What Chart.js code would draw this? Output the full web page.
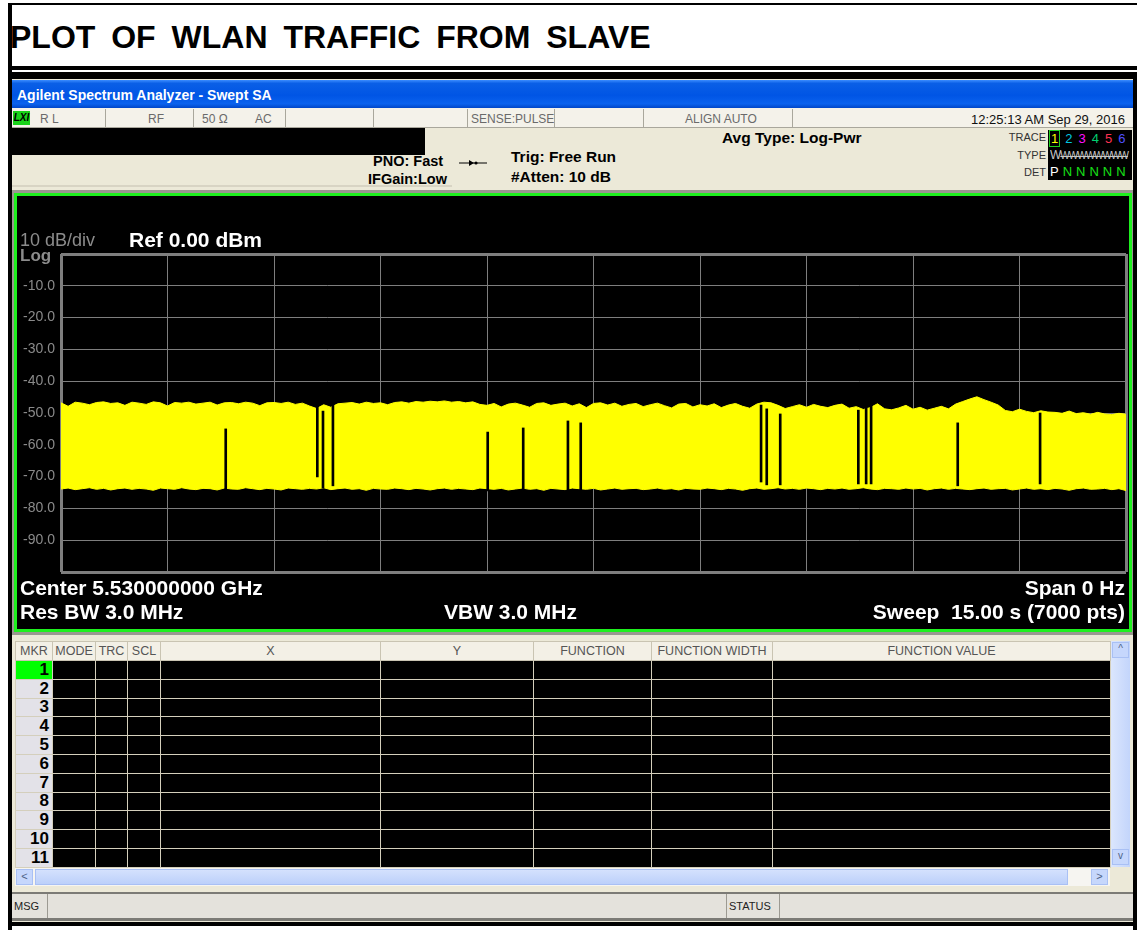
<!DOCTYPE html>
<html>
<head>
<meta charset="utf-8">
<script src="https://cdn.jsdelivr.net/npm/chart.js"></script>
<style>
  body { margin: 0; width: 1137px; height: 930px; position: relative; background: #fff; overflow: hidden;
         font-family: "Liberation Sans", Arial, sans-serif; }
  .a { position: absolute; white-space: nowrap; }
  .st { font-size: 12px; color: #6a6a6a; top: 112px; }
  .vd { position: absolute; top: 109px; width: 1px; height: 19px; background: #a9a79c; }
  .bw { color: #fff; font-weight: bold; font-size: 21px; }
  .hb { font-weight: bold; font-size: 15.5px; }
  table.mk { position: absolute; left: 15px; top: 641px; border-collapse: collapse; table-layout: fixed; }
  table.mk td { padding: 0; border: 1px solid #d4cfbc; background: #000; height: 17.8px; }
  table.mk tr.h td { background: #f3f0e6; color: #555; font-size: 12.5px; text-align: center; height: 18px; border-color: #c9c4b2; }
  table.mk td.n { background: #e3e2e8; color: #000; font-weight: bold; font-size: 17px; text-align: right; padding-right: 3px; line-height: 16px; }
</style>
</head>
<body>

<!-- page title frame -->
<div class="a" style="left:8px;top:3px;width:1129px;height:63px;border-top:2px solid #000;border-left:4px solid #000;box-sizing:border-box"></div>
<div class="a" style="left:10px;top:19px;font-size:32px;font-weight:bold;word-spacing:7px">PLOT OF WLAN TRAFFIC FROM SLAVE</div>
<div class="a" style="left:8px;top:66px;width:1129px;height:4px;background:#000"></div>
<div class="a" style="left:8px;top:72px;width:1129px;height:7px;background:#000"></div>
<div class="a" style="left:8px;top:66px;width:4px;height:864px;background:#000"></div>
<div class="a" style="left:1133px;top:79px;width:4px;height:851px;background:#000"></div>

<!-- analyzer window -->
<div class="a" style="left:12px;top:79px;width:1121px;height:843px;background:#ece9d8"></div>
<div class="a" style="left:12px;top:80px;width:1121px;height:28px;background:linear-gradient(#3b8cff 0%,#0a5fe6 12%,#0055e5 55%,#0a62ee 85%,#0046c8 100%)"></div>
<div class="a" style="left:17px;top:87px;color:#fff;font-weight:bold;font-size:14px">Agilent Spectrum Analyzer - Swept SA</div>

<!-- status row -->
<div class="a" style="left:12px;top:108px;width:1121px;height:20px;background:#f4f2ea;border-bottom:1px solid #a9a79c;box-sizing:border-box"></div>
<div class="a" style="left:13px;top:111px;width:17px;height:14px;background:#19d219;font-size:10px;font-weight:bold;font-style:italic;line-height:14px;text-align:center">LXI</div>
<div class="a st" style="left:40px">R L</div>
<div class="a st" style="left:148px">RF</div>
<div class="a st" style="left:202px">50 Ω</div>
<div class="a st" style="left:255px">AC</div>
<div class="a st" style="left:471px">SENSE:PULSE</div>
<div class="a st" style="left:685px">ALIGN AUTO</div>
<div class="a st" style="right:12px;color:#111;font-size:13px">12:25:13 AM Sep 29, 2016</div>
<div class="vd" style="left:105px"></div><div class="vd" style="left:193px"></div>
<div class="vd" style="left:285px"></div><div class="vd" style="left:373px"></div>
<div class="vd" style="left:467px"></div><div class="vd" style="left:554px"></div>
<div class="vd" style="left:643px"></div><div class="vd" style="left:792px"></div>

<!-- settings row -->
<div class="a" style="left:12px;top:128px;width:413px;height:27px;background:#000"></div>
<div class="a" style="left:12px;top:155px;width:440px;height:32px;border-bottom:2px solid #d8d4c4;box-sizing:border-box"></div>
<div class="a" style="left:373px;top:153px;font-size:14.5px;font-weight:bold">PNO: Fast</div>
<div class="a" style="left:368px;top:171px;font-size:14.5px;font-weight:bold">IFGain:Low</div>
<svg class="a" style="left:458px;top:157px" width="30" height="12">
  <line x1="1" y1="6" x2="29" y2="6" stroke="#000" stroke-width="1"/>
  <polygon points="11,3 16,6 11,9" fill="#000"/><circle cx="18" cy="6" r="1.6" fill="#000"/>
</svg>
<div class="a hb" style="left:511px;top:148px">Trig: Free Run</div>
<div class="a hb" style="left:511px;top:168px">#Atten: 10 dB</div>
<div class="a hb" style="left:722px;top:129px">Avg Type: Log-Pwr</div>
<div class="a" style="right:91px;top:131px;font-size:11px;color:#333">TRACE</div>
<div class="a" style="right:91px;top:149px;font-size:11px;color:#333">TYPE</div>
<div class="a" style="right:91px;top:166px;font-size:11px;color:#333">DET</div>
<div class="a" style="left:1048px;top:130px;width:84px;height:50px;background:#000"></div>
<div class="a" style="left:1049px;top:131px;font-size:13px;letter-spacing:6px">
  <span style="color:#ffff00;border:1px solid #20d020;padding:0 1px;letter-spacing:0;margin-right:5px">1</span><span style="color:#00c8e0">2</span><span style="color:#ff10ff">3</span><span style="color:#00d070">4</span><span style="color:#ff3050">5</span><span style="color:#5050ff">6</span>
</div>
<div class="a" style="left:1050px;top:148px;width:80px;overflow:hidden;font-size:12px;color:#c8c8c8;letter-spacing:-1px">W<span style="text-decoration:line-through;font-size:10px">WWWWWWWW</span></div>
<div class="a" style="left:1050px;top:164px;font-size:13px;color:#fff;letter-spacing:4px">P<span style="color:#18e018">NNNNN</span></div>

<!-- trace panel -->
<div class="a" style="left:12px;top:190px;width:1121px;height:445px;background:#9a9890"></div>
<div class="a" style="left:14px;top:193px;width:1118px;height:439px;border:3px solid #1ef01e;background:#000;box-sizing:border-box"></div>
<canvas id="trace" class="a" style="left:17px;top:196px" width="1112" height="433"></canvas>
<div class="a" style="left:20px;top:230px;font-size:18px;color:#8c8c8c">10 dB/div</div>
<div class="a" style="left:20px;top:246px;font-size:17px;color:#8c8c8c;font-weight:bold">Log</div>
<div class="a bw" style="left:129px;top:228px">Ref 0.00 dBm</div>
<div class="a bw" style="left:20px;top:576px">Center 5.530000000 GHz</div>
<div class="a bw" style="left:20px;top:600px">Res BW 3.0 MHz</div>
<div class="a bw" style="left:444px;top:600px">VBW 3.0 MHz</div>
<div class="a bw" style="right:12px;top:576px">Span 0 Hz</div>
<div class="a bw" style="right:12px;top:600px;white-space:pre">Sweep  15.00 s (7000 pts)</div>

<!-- marker table -->
<table class="mk" id="mk"></table>
<div class="a" style="left:1111px;top:641px;width:19px;height:226px;background:linear-gradient(90deg,#dbe6fd,#c3d5fb)"></div>
<div class="a" style="left:1112px;top:642px;width:17px;height:16px;background:#c6d7fc;border:1px solid #a9c0f4;box-sizing:border-box;font-size:10px;text-align:center;color:#4d6185">&#94;</div>
<div class="a" style="left:1112px;top:849px;width:17px;height:16px;background:#c6d7fc;border:1px solid #a9c0f4;box-sizing:border-box;font-size:10px;text-align:center;color:#4d6185">v</div>
<div class="a" style="left:15px;top:868px;width:1095px;height:18px;background:#f6f5f1"></div>
<div class="a" style="left:16px;top:869px;width:17px;height:16px;background:#c6d7fc;border:1px solid #a9c0f4;box-sizing:border-box;font-size:11px;text-align:center;color:#4d6185">&lt;</div>
<div class="a" style="left:35px;top:869px;width:1033px;height:16px;background:linear-gradient(#d4e1fd,#bcd0fa);border:1px solid #a9c0f4;box-sizing:border-box"></div>
<div class="a" style="left:1091px;top:869px;width:17px;height:16px;background:#c6d7fc;border:1px solid #a9c0f4;box-sizing:border-box;font-size:11px;text-align:center;color:#4d6185">&gt;</div>

<!-- message bar -->
<div class="a" style="left:12px;top:892px;width:1121px;height:29px;background:#e4e2dc;border-top:2px solid #7c7b76;border-bottom:3px solid #7c7b76;box-sizing:border-box"></div>
<div class="a" style="left:14px;top:900px;font-size:11px;color:#222">MSG</div>
<div class="a" style="left:47px;top:894px;width:1px;height:24px;background:#9c9a92"></div>
<div class="a" style="left:726px;top:894px;width:1px;height:24px;background:#9c9a92"></div>
<div class="a" style="left:729px;top:900px;font-size:11px;color:#222">STATUS</div>
<div class="a" style="left:779px;top:894px;width:1px;height:24px;background:#9c9a92"></div>
<div class="a" style="left:8px;top:922px;width:1129px;height:4px;background:#000"></div>

<script>
// zero-span sweep: 15 s, upper/lower envelope of the peak-detected trace, sampled every 0.1 s
const sweepStep = 0.1;
const upperDbm = [
  -46.8, -47.9, -46.6, -46.9, -47.4, -46.7, -46.5, -47.0, -46.8, -47.6,
  -46.6, -46.9, -47.3, -46.5, -46.8, -47.8, -46.7, -46.9, -46.6, -47.2,
  -46.9, -46.6, -47.5, -46.8, -46.7, -47.1, -46.6, -46.9, -47.7, -46.8,
  -46.7, -47.0, -46.6, -47.3, -46.9, -47.8, -48.6, -47.4, -48.2, -47.1,
  -46.9, -46.7, -47.2, -46.6, -47.0, -46.8, -47.4, -46.7, -46.5, -46.9,
  -46.4, -46.6, -46.3, -46.5, -46.2, -46.6, -46.4, -46.8, -46.5, -47.3,
  -47.6, -47.0, -48.1, -47.2, -46.9, -47.5, -48.2, -47.0, -46.8, -47.6,
  -47.2, -46.9, -47.8, -47.1, -48.3, -47.0, -46.8, -47.5, -46.9, -47.9,
  -47.3, -47.0, -48.0, -47.4, -46.9, -47.7, -48.4, -47.2, -47.0, -48.1,
  -47.4, -47.8, -47.1, -48.3, -47.5, -47.0, -47.9, -48.5, -47.2, -46.6,
  -46.8, -47.6, -48.6, -48.0, -47.4, -48.2, -47.3, -47.9, -48.3, -47.6,
  -47.2, -48.5, -48.0, -48.9, -48.3, -47.1, -48.7, -49.0, -48.4, -47.6,
  -48.8, -48.2, -49.1, -48.5, -47.9, -48.7, -47.2, -46.4, -45.6, -44.9,
  -45.8, -46.6, -47.5, -49.2, -49.6, -48.8, -49.5, -49.9, -49.3, -49.7,
  -49.8, -50.1, -49.4, -50.2, -49.9, -50.4, -49.8, -50.3, -50.5, -50.1, -50.4
];
const lowerDbm = [
  -73.9, -73.6, -74.1, -73.8, -73.5, -74.0, -73.7, -74.2, -73.8, -73.6,
  -74.0, -73.7, -73.9, -74.3, -73.6, -73.8, -74.0, -73.5, -73.9, -74.1,
  -73.7, -73.8, -74.2, -73.6, -73.9, -74.0, -73.5, -73.8, -74.1, -73.7,
  -73.9, -74.2, -73.6, -73.8, -74.0, -73.7, -73.9, -73.5, -74.1, -73.8,
  -73.6, -74.0, -73.8, -74.3, -73.7, -73.9, -74.0, -73.6, -73.8, -74.1,
  -73.7, -73.9, -74.2, -73.8, -73.6, -74.0, -73.7, -73.9, -74.1, -73.6,
  -73.8, -74.0, -73.7, -74.2, -73.9, -73.6, -74.0, -73.8, -74.3, -73.7,
  -73.9, -74.1, -73.6, -73.8, -74.0, -73.7, -74.2, -73.9, -73.6, -74.0,
  -73.8, -73.7, -74.1, -73.9, -73.6, -74.0, -73.8, -74.2, -73.7, -73.9,
  -74.0, -73.6, -73.8, -74.1, -73.7, -73.9, -74.3, -73.8, -73.6, -74.0,
  -73.8, -73.5, -73.9, -73.7, -74.0, -73.6, -73.8, -74.1, -73.7, -73.9,
  -73.6, -74.0, -73.8, -73.5, -73.9, -74.1, -73.7, -73.8, -74.0, -73.6,
  -73.9, -73.7, -74.2, -73.8, -73.6, -74.0, -73.7, -73.9, -74.1, -73.8,
  -73.6, -74.0, -73.8, -73.7, -74.2, -73.9, -73.6, -74.0, -73.8, -74.1,
  -73.7, -73.9, -74.3, -73.8, -73.6, -74.0, -73.9, -73.7, -74.1, -73.8, -74.4
];
// gaps in the traffic (dark gaps in the trace)
const dipTimes  = [2.32, 3.61, 3.69, 3.83, 6.01, 6.51, 7.14, 7.32, 9.86, 9.94, 10.13, 11.23, 11.34, 11.41, 12.63, 13.79];
const dipTop    = [-55.0, -47.5, -49.4, -47.5, -56.0, -54.7, -52.5, -53.1, -47.5, -48.7, -50.3, -49.1, -48.4, -47.2, -53.1, -50.0];
const dipBottom = [-74.5, -70.1, -73.6, -72.9, -74.5, -74.5, -74.5, -74.5, -71.7, -72.6, -72.6, -72.3, -72.3, -72.3, -72.9, -72.3];

const markerRows = ['1', '2', '3', '4', '5', '6', '7', '8', '9', '10', '11'];
const markerCols = ['MKR', 'MODE', 'TRC', 'SCL', 'X', 'Y', 'FUNCTION', 'FUNCTION WIDTH', 'FUNCTION VALUE'];

// marker table
const colW = [37, 43, 32, 33, 220, 153, 118, 121, 338];
let html = '<colgroup>' + colW.map(w => '<col style="width:' + w + 'px">').join('') + '</colgroup>';
html += '<tr class="h">' + markerCols.map(c => '<td>' + c + '</td>').join('') + '</tr>';
markerRows.forEach((r, i) => {
    html += '<tr><td class="n"' + (i === 0 ? ' style="background:#00ff00"' : '') + '>' + r + '</td>'
        + '<td></td>'.repeat(colW.length - 1) + '</tr>';
});
document.getElementById('mk').innerHTML = html;

const envTimes = upperDbm.map((_, i) => +(i * sweepStep).toFixed(2));
const ctx = document.getElementById('trace');

const edgeWidth = (ctx, lo, hi) => (ctx.tick && (ctx.tick.value === lo || ctx.tick.value === hi)) ? 3 : 1;

new Chart(ctx, {
    type: 'line',
    data: {
        datasets: [
            {
                type: 'bar',
                data: dipTimes.map((t, i) => ({ x: t, y: [dipBottom[i], dipTop[i]] })),
                backgroundColor: '#000',
                barThickness: 2,
                borderWidth: 0,
                order: 0
            },
            {
                data: envTimes.map((t, i) => ({ x: t, y: lowerDbm[i] })),
                borderColor: '#ffff00',
                borderWidth: 1,
                fill: false,
                order: 1
            },
            {
                data: envTimes.map((t, i) => ({ x: t, y: upperDbm[i] })),
                borderColor: '#ffff00',
                backgroundColor: '#ffff00',
                borderWidth: 1,
                fill: '-1',
                order: 1
            }
        ]
    },
    options: {
        responsive: false,
        animation: false,
        devicePixelRatio: 1,
        layout: { padding: { left: 0, right: 3, top: 58, bottom: 57 } },
        elements: { point: { radius: 0 }, line: { tension: 0 } },
        plugins: { legend: { display: false }, tooltip: { enabled: false } },
        scales: {
            x: {
                type: 'linear',
                min: 0,
                max: 15,
                offset: false,
                ticks: { display: false, stepSize: 1.5 },
                grid: { offset: false, color: '#7e7e7e', drawTicks: false, lineWidth: c => edgeWidth(c, 0, 15) },
                border: { display: false },
                afterFit: s => { s.height = 0; }
            },
            y: {
                min: -100,
                max: 0,
                ticks: {
                    stepSize: 10,
                    padding: 6,
                    color: '#8a8a8a',
                    font: { family: 'Liberation Sans', size: 14 },
                    callback: v => (v === 0 || v === -100) ? '' : v.toFixed(1)
                },
                grid: { color: '#7e7e7e', drawTicks: false, lineWidth: c => edgeWidth(c, -100, 0) },
                border: { display: false },
                afterFit: s => { s.width = 44; }
            }
        }
    }
});
</script>
</body>
</html>
